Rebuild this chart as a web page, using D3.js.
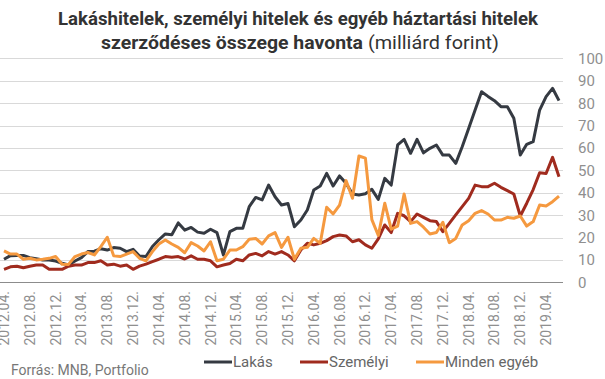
<!DOCTYPE html>
<html>
<head>
<meta charset="utf-8">
<script src="https://cdn.jsdelivr.net/npm/d3@7"></script>
<style>
  html, body { margin: 0; padding: 0; background: #fff; }
  svg { display: block; font-family: Roboto, "Noto Sans", sans-serif; }
</style>
</head>
<body>
<svg id="chart" width="605" height="379"></svg>
<script>
// Monthly data, 2012.04 – 2019.06 (billion HUF)
const months = [];
for (let y = 2012, m = 4; months.length < 87; ) {
  months.push(y + "." + String(m).padStart(2, "0") + ".");
  m++; if (m > 12) { m = 1; y++; }
}
const lakas = [10.3,11.9,12,12,11,10.5,10,10,9.5,8.5,7.7,9.5,11,13.7,13.9,15,14.4,15.5,15.2,13.7,14.7,11.7,11.5,16,19,21.6,21.2,26.5,23.3,24.5,22.4,21.9,23.7,22.2,12.2,22.6,24.1,24.1,33.8,37.9,36.8,43.4,38.2,34.5,35.2,24.8,27.8,32.3,41.2,43,48.6,43,47.5,44.2,39.4,39,39.5,41.5,37,46.4,43.4,61.3,63.8,57.6,63.8,57.8,59.8,61.3,56.8,56.8,53.1,60.5,68.7,76.9,85.1,83,81.1,78.4,78.4,73.2,56.8,61.6,62.8,76.9,82.9,86.6,81.1];
const szemelyi = [5.8,6.9,7.2,6.5,7.2,7.7,7.7,5.8,5.8,5.8,7.2,7.7,7.7,8.8,8.8,9.6,7.7,8.1,7.2,7.7,5.8,7.2,8.1,9.2,10.3,11.5,11.2,11.5,10.4,11.8,10.3,10.3,9.6,6.9,7.7,8.4,10.3,9.6,12.2,12.9,11.8,13.7,12.6,13.7,12.2,9.6,14.4,17.4,16.7,17.4,18.6,20.4,21.1,20.7,18.1,19,16.7,15.2,19.4,25.6,22.2,30.8,29.7,27.1,30.5,29,27.5,27.1,22.6,26.3,30.1,33.8,37.5,43.4,42.7,42.7,44.2,42.4,40.9,39.4,29.6,35.3,41.4,48.9,48.6,55.8,47.1];
const egyeb = [14,12.6,12.6,10.3,10.7,10,10.3,10.7,11.5,8.1,8,11.5,12.6,13.3,12.2,15.9,20.1,11.8,11.5,12.6,13.7,10.7,9.6,13.7,17.1,18.9,17.1,15.6,13.2,17.7,16.2,14,18.1,9.6,10.3,14.4,14.4,15.9,19.2,19.6,17.1,20.7,22.2,15.6,20.1,10.3,15.2,15.6,19.6,17.4,33.5,30.5,34.5,45.4,37.5,56.4,55.4,28,20.9,35.3,23.7,25.1,39.4,26.3,27.1,24.6,21.6,22.2,26.8,17.7,19.6,25.6,27.5,30.8,32,30.5,27.8,27.8,29,28.6,29.6,25.1,27.1,34.5,34.1,36,38.5];
const seriesNames = ["Lakás", "Személyi", "Minden egyéb"];
const seriesColors = ["#353a42", "#a02b1e", "#f5993f"];
const yTicks = [0,10,20,30,40,50,60,70,80,90,100];
const xTickLabels = months.filter((d, i) => i % 4 === 0 && i <= 84);

const svg = d3.select("#chart");
const plotL = 0, plotR = 563;
const x = d3.scaleLinear().domain([0, months.length - 1]).range([4, 559]);
const y = d3.scaleLinear().domain([0, 100]).range([282.3, 58.3]);

// gridlines
svg.append("g").selectAll("line").data(yTicks.filter(d => d > 0)).join("line")
  .attr("x1", plotL).attr("x2", plotR)
  .attr("y1", d => Math.round(y(d)) + 0.5).attr("y2", d => Math.round(y(d)) + 0.5)
  .attr("stroke", "#d9d9d9").attr("stroke-width", 1);
// baseline
svg.append("line").attr("x1", plotL).attr("x2", plotR)
  .attr("y1", Math.round(y(0)) + 0.5).attr("y2", Math.round(y(0)) + 0.5)
  .attr("stroke", "#8c8c8c").attr("stroke-width", 1);

// y axis labels (right)
svg.append("g").selectAll("text").data(yTicks).join("text")
  .attr("x", 578).attr("y", d => y(d)).attr("dy", "0.36em")
  .attr("font-size", 15).attr("fill", "#8f8f8f")
  .text(d => d);

// x axis labels
svg.append("g").selectAll("text").data(xTickLabels).join("text")
  .attr("transform", d => `translate(${x(months.indexOf(d)) + 5},291) rotate(-90)`)
  .attr("text-anchor", "end")
  .attr("font-size", 14).attr("fill", "#8f8f8f")
  .text(d => d);

// lines
const line = d3.line().x((d, i) => x(i)).y(d => y(d));
[lakas, szemelyi, egyeb].forEach((data, k) => {
  svg.append("path").datum(data)
    .attr("d", line).attr("fill", "none")
    .attr("stroke", seriesColors[k]).attr("stroke-width", 3)
    .attr("stroke-linejoin", "round");
});

// title
svg.append("text").attr("x", 298).attr("y", 25).attr("text-anchor", "middle")
  .attr("font-size", 19).attr("font-weight", 700).attr("fill", "#333")
  .attr("textLength", 480).attr("lengthAdjust", "spacingAndGlyphs")
  .text("Lakáshitelek, személyi hitelek és egyéb háztartási hitelek");
const t2 = svg.append("text").attr("x", 300).attr("y", 49).attr("text-anchor", "middle")
  .attr("font-size", 19).attr("fill", "#333");
t2.append("tspan").attr("font-weight", 700).attr("textLength", 262).attr("lengthAdjust", "spacingAndGlyphs")
  .text("szerződéses összege havonta");
t2.append("tspan").attr("font-weight", 400).attr("textLength", 136).attr("lengthAdjust", "spacingAndGlyphs")
  .text(" (milliárd forint)");

// legend
const legX = [204, 300, 416];
const leg = svg.append("g").selectAll("g").data(seriesNames).join("g")
  .attr("transform", (d, i) => `translate(${legX[i]},362)`);
leg.append("line").attr("x1", 0).attr("x2", 28).attr("y1", 0).attr("y2", 0)
  .attr("stroke", (d, i) => seriesColors[i]).attr("stroke-width", 3);
leg.append("text").attr("x", 29).attr("y", 0).attr("dy", "0.35em")
  .attr("font-size", 15).attr("fill", "#666").text(d => d);

// source
svg.append("text").attr("x", 11).attr("y", 375)
  .attr("font-size", 14).attr("fill", "#777")
  .text("Forrás: MNB, Portfolio");
</script>
</body>
</html>
